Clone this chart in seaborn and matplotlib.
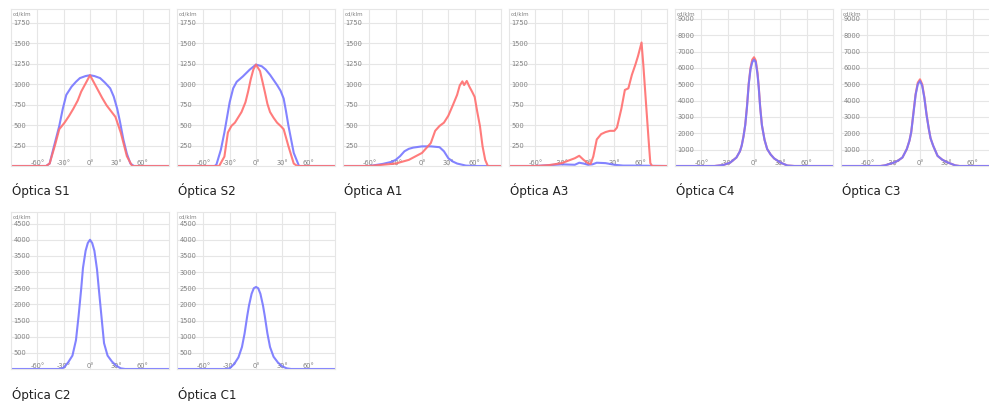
import numpy as np
import pandas as pd
import matplotlib
matplotlib.use("Agg")
import matplotlib.pyplot as plt
import seaborn as sns
from matplotlib import font_manager

sns.set_theme(style="white")

# ---------------- data ----------------
titles = ["Óptica S1", "Óptica S2", "Óptica A1", "Óptica A3", "Óptica C4", "Óptica C3",
          "Óptica C2", "Óptica C1"]

s1_blue_ang = [-90, -50, -46, -42, -35, -31, -27, -21, -16, -11.5, -5, 0, 5, 11.5, 17, 23, 27,
               31, 34, 38, 42, 46, 50, 90]
s1_blue_val = [0, 0, 30, 200, 490, 700, 870, 970, 1030, 1075, 1100, 1110, 1100, 1075, 1020,
               950, 850, 700, 550, 325, 150, 30, 0, 0]
s1_red_ang = [-90, -50, -46, -40, -35, -29, -24, -19, -14, -10, -5, 0, 5, 10, 14, 19, 24, 29,
              35, 42, 48, 90]
s1_red_val = [0, 0, 30, 250, 450, 530, 610, 700, 800, 910, 1010, 1110, 1010, 910, 830, 740,
              670, 600, 410, 120, 0, 0]

s2_blue_ang = [-90, -47, -45, -40, -36, -30, -26, -22, -15, -7, 0, 6.5, 11, 16, 24, 28, 31.5,
               34, 37, 43, 49, 90]
s2_blue_val = [0, 0, 20, 200, 410, 780, 950, 1030, 1095, 1180, 1240, 1220, 1180, 1115, 990,
               920, 825, 680, 490, 160, 0, 0]
s2_red_ang = [-90, -42, -36, -32, -28, -24, -16.5, -12, -9, -6, -3, 0, 4.6, 7, 10, 13, 16, 20,
              24, 28, 31.5, 37, 43, 47, 90]
s2_red_val = [0, 0, 115, 410, 490, 530, 660, 780, 910, 1060, 1180, 1240, 1160, 1050, 910, 760,
              660, 590, 530, 490, 450, 240, 30, 0, 0]

a1_red_ang = [-90, -60, -30, -15, 0, 10, 15, 20, 25, 30, 35, 40, 43, 46, 48, 51, 54, 57, 60,
              63, 66, 69, 72, 75, 90]
a1_red_val = [0, 0, 30, 75, 160, 280, 430, 490, 530, 615, 740, 870, 985, 1035, 990, 1040,
              970, 910, 845, 660, 490, 240, 75, 0, 0]
a1_blue_ang = [-90, -60, -45, -35, -30, -25, -20, -15, -10, 0, 10, 20, 25, 30, 35, 40, 50, 60, 90]
a1_blue_val = [0, 0, 25, 50, 75, 120, 180, 210, 225, 240, 240, 230, 180, 95, 55, 30, 5, 0, 0]

a3_red_ang = [-90, -60, -45, -30, -20, -15, -10, -5, 0, 3, 6, 10, 15, 20, 25, 30, 33, 38, 42,
              46, 50, 54, 57, 61, 63, 66, 69, 71, 73, 90]
a3_red_val = [0, 0, 10, 35, 75, 95, 125, 75, 35, 25, 115, 325, 390, 415, 430, 430, 470, 700,
              930, 950, 1115, 1240, 1345, 1510, 1240, 780, 325, 35, 0, 0]
a3_blue_ang = [-90, -60, -30, -15, -10, -5, 0, 5, 10, 20, 30, 40, 50, 90]
a3_blue_val = [0, 0, 20, 15, 40, 30, 15, 20, 40, 35, 15, 5, 5, 0]

c4_ang = [-90, -45, -35, -27, -20, -16, -14, -12, -10, -8, -6, -4, -2, 0, 2, 4, 5.4, 7, 9, 12,
          15, 19, 23, 30.5, 38, 46, 90]
c4_blue_val = [0, 0, 60, 210, 520, 900, 1250, 1800, 2500, 3600, 5000, 5900, 6350, 6500, 6350,
               5600, 4800, 3600, 2500, 1600, 1040, 700, 460, 200, 30, 0, 0]
c4_red_val = [0, 0, 60, 210, 520, 900, 1250, 1800, 2500, 3650, 5050, 6000, 6500, 6650, 6450,
              5700, 4850, 3650, 2500, 1600, 1040, 700, 460, 200, 30, 0, 0]

c3_ang = [-90, -45, -40, -30, -25, -20, -15, -12, -10, -7.5, -5, -2.5, 0, 2.5, 5, 7.5, 10, 12,
          15, 20, 25, 30, 40, 45, 90]
c3_blue_val = [0, 0, 40, 200, 330, 520, 1040, 1550, 2070, 3200, 4350, 5000, 5200, 4900, 4150,
               3100, 2280, 1700, 1240, 620, 400, 250, 40, 0, 0]
c3_red_val = [0, 0, 40, 200, 330, 520, 1040, 1550, 2070, 3250, 4400, 5100, 5300, 5000, 4200,
              3150, 2280, 1700, 1240, 620, 400, 250, 40, 0, 0]

c2_ang = [-90, -35, -30, -25, -20, -16, -13, -10, -8, -5, -2.5, 0, 2.5, 5, 8, 10, 13, 16, 20,
          25, 30, 35, 40, 90]
c2_val = [0, 0, 40, 200, 415, 890, 1640, 2490, 3130, 3660, 3900, 4000, 3900, 3660, 3080, 2490,
          1640, 800, 415, 230, 100, 20, 0, 0]

c1_ang = [-90, -35, -30, -25, -20, -16, -13, -10, -8, -5, -2.5, 0, 2.5, 5, 8, 10, 13, 16, 20,
          25, 30, 35, 40, 90]
c1_val = [0, 0, 20, 150, 360, 680, 1100, 1640, 1960, 2330, 2500, 2540, 2500, 2330, 1960, 1640,
          1100, 680, 380, 200, 80, 20, 0, 0]

x_tick_vals = [-60, -30, 0, 30, 60]
x_tick_labels = ["-60°", "-30°", "0°", "30°", "60°"]
yticks_s = [250, 500, 750, 1000, 1250, 1500, 1750]
yticks_c43 = [1000, 2000, 3000, 4000, 5000, 6000, 7000, 8000, 9000]
yticks_c21 = [500, 1000, 1500, 2000, 2500, 3000, 3500, 4000, 4500]

panels = [
    (titles[0], [(s1_blue_ang, s1_blue_val, "blue"), (s1_red_ang, s1_red_val, "red")], 1920, yticks_s),
    (titles[1], [(s2_blue_ang, s2_blue_val, "blue"), (s2_red_ang, s2_red_val, "red")], 1920, yticks_s),
    (titles[2], [(a1_blue_ang, a1_blue_val, "blue"), (a1_red_ang, a1_red_val, "red")], 1920, yticks_s),
    (titles[3], [(a3_blue_ang, a3_blue_val, "blue"), (a3_red_ang, a3_red_val, "red")], 1920, yticks_s),
    (titles[4], [(c4_ang, c4_red_val, "red"), (c4_ang, c4_blue_val, "blue")], 9600, yticks_c43),
    (titles[5], [(c3_ang, c3_red_val, "red"), (c3_ang, c3_blue_val, "blue")], 9600, yticks_c43),
    (titles[6], [(c2_ang, c2_val, "blue")], 4860, yticks_c21),
    (titles[7], [(c1_ang, c1_val, "blue")], 4860, yticks_c21),
]

colors = {"blue": "#7676ff", "red": "#ff6e6e"}

W, H = 989, 401
fig = plt.figure(figsize=(W / 100, H / 100), dpi=100)
fig.patch.set_facecolor("white")

names = {f.name for f in font_manager.fontManager.ttflist}
if "Liberation Sans Narrow" in names:
    title_font = ["Liberation Sans Narrow", "DejaVu Sans"]
else:
    title_font = ["DejaVu Sans"]

lefts = [11, 177, 343, 509, 675, 841, 11, 177]
tops = [9, 9, 9, 9, 9, 9, 212, 212]
pw, ph = 158, 157

for i, (title, curves, ymax, yt) in enumerate(panels):
    l, t = lefts[i], tops[i]
    ax = fig.add_axes([l / W, 1 - (t + ph) / H, pw / W, ph / H])
    ax.set_facecolor("white")
    for ang, val, c in curves:
        df = pd.DataFrame({"ang": ang, "val": val})
        sns.lineplot(data=df, x="ang", y="val", ax=ax, color=colors[c], lw=1.5,
                     alpha=0.9, sort=False, estimator=None)
    ax.set_xlim(-90, 90)
    ax.set_ylim(0, ymax)
    ax.set_xticks(x_tick_vals)
    ax.set_xticklabels(x_tick_labels)
    ax.set_yticks(yt)
    ax.set_yticklabels([str(v) for v in yt])
    ax.grid(True, color="#e6e6e6", lw=0.8)
    ax.set_axisbelow(True)
    ax.tick_params(axis="y", direction="in", length=0, pad=-2, labelsize=4.8, labelcolor="#808080")
    ax.tick_params(axis="x", direction="in", length=0, pad=-4.5, labelsize=4.8, labelcolor="#808080")
    for lb in ax.get_yticklabels():
        lb.set_horizontalalignment("left")
    for lb in ax.get_xticklabels():
        lb.set_horizontalalignment("center")
    for s in ax.spines.values():
        s.set_color("#e6e6e6")
        s.set_linewidth(0.8)
    ax.set_xlabel("")
    ax.set_ylabel("")
    ax.text(0.01, 0.965, "cd/klm", transform=ax.transAxes, fontsize=4.0, color="#808080",
            ha="left", va="center")
    fig.text((l + 1) / W, 1 - (t + ph + 25) / H, title, fontsize=9.5, color="#222222",
             ha="left", va="center", family=title_font, fontstretch="condensed")

fig.savefig("out.png", dpi=100, facecolor="white")
